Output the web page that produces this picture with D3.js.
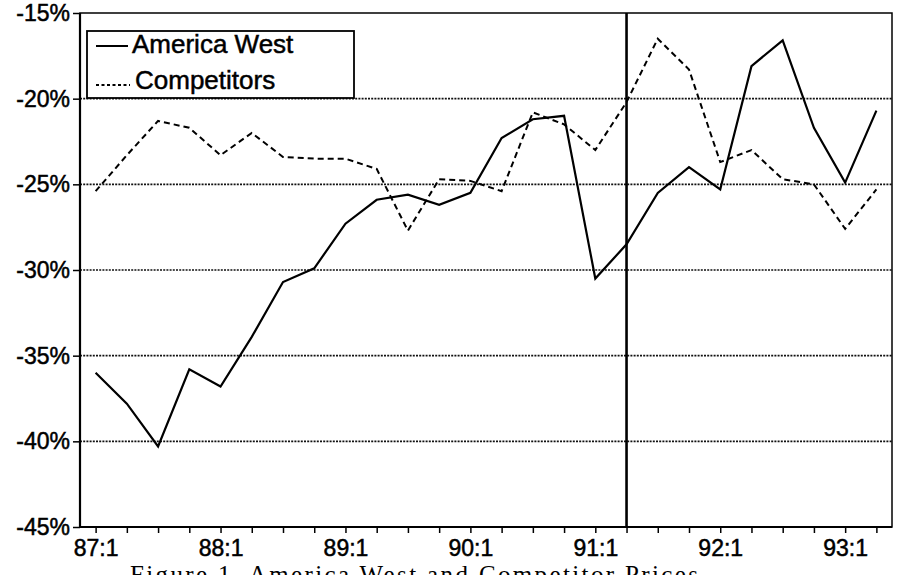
<!DOCTYPE html>
<html>
<head>
<meta charset="utf-8">
<script src="https://cdn.jsdelivr.net/npm/d3@7"></script>
<style>
  body { margin:0; background:#fff; }
  .canvas { width:904px; height:575px; }
  text { font-family:"Liberation Sans", Arial, sans-serif; fill:#000; }
  .axis path { display:none; }
  .axis line { stroke:#000; stroke-width:1.5px; }
  .axis text { font-size:23px; stroke:#000; stroke-width:0.5px; }
  .grid { stroke:#111; stroke-width:1.6px; stroke-dasharray:2,1.2; }
</style>
</head>
<body>
<div class="canvas" id="canvas"></div>
<script>
// quarters shown on the x axis
var periods = ["87:1","87:2","87:3","87:4","88:1","88:2","88:3","88:4",
               "89:1","89:2","89:3","89:4","90:1","90:2","90:3","90:4",
               "91:1","91:2","91:3","91:4","92:1","92:2","92:3","92:4",
               "93:1","93:2"];
var tickLabels = ["87:1","88:1","89:1","90:1","91:1","92:1","93:1"];
var yTicks = [-45,-40,-35,-30,-25,-20,-15];
var gridValues = [-40,-35,-30,-25,-20];
var breakPeriod = "91:2";

var americaWest = [-36.0,-37.8,-40.3,-35.8,-36.8,-33.9,-30.7,-29.9,
                   -27.3,-25.9,-25.6,-26.2,-25.5,-22.3,-21.2,-21.0,
                   -30.5,-28.5,-25.5,-24.0,-25.3,-18.1,-16.6,-21.7,
                   -24.9,-20.7];
var competitors = [-25.4,-23.3,-21.3,-21.7,-23.3,-22.0,-23.4,-23.5,
                   -23.5,-24.1,-27.7,-24.7,-24.8,-25.4,-20.8,-21.5,
                   -23.0,-20.2,-16.5,-18.3,-23.7,-23.0,-24.7,-25.0,
                   -27.6,-25.3];
var seriesNames = ["America West","Competitors"];

var m = {t:13, r:12, b:48, l:80},
    W = 904, H = 575,
    w = W - m.l - m.r,
    h = H - m.t - m.b;

var svg = d3.select('.canvas')
    .append('svg')
    .attr('width', W)
    .attr('height', H);

var plot = svg.append('g')
    .attr('transform','translate('+m.l+','+m.t+')');

// Scale
var scaleX = d3.scalePoint()
    .domain(periods)
    .range([0,w])
    .padding(0.5);
var scaleY = d3.scaleLinear()
    .domain([-45,-15])
    .range([h,0]);

// grid lines
plot.selectAll('.grid').data(gridValues)
    .enter().append('line')
    .attr('class','grid')
    .attr('x1',0).attr('x2',w)
    .attr('y1',function(d){return scaleY(d);})
    .attr('y2',function(d){return scaleY(d);});

// Axis
var axisX = d3.axisBottom()
    .scale(scaleX)
    .tickSize(6)
    .tickPadding(7)
    .tickFormat(function(d){ return tickLabels.indexOf(d) >= 0 ? d : ''; });
var axisY = d3.axisLeft()
    .scale(scaleY)
    .tickValues(yTicks)
    .tickSize(7)
    .tickPadding(3)
    .tickFormat(function(d){ return d + '%'; });

plot.append('g').attr('class','axis axis-x')
    .attr('transform','translate(0,'+h+')')
    .call(axisX);
plot.append('g').attr('class','axis axis-y').call(axisY);

// frame
plot.append('rect')
    .attr('x',0).attr('y',0).attr('width',w).attr('height',h)
    .style('fill','none').style('stroke','#000').style('stroke-width',1.5);
plot.append('line')
    .attr('x1',0).attr('x2',0).attr('y1',0).attr('y2',h)
    .style('stroke','#000').style('stroke-width',2.2);
plot.append('line')
    .attr('x1',0).attr('x2',w).attr('y1',h).attr('y2',h)
    .style('stroke','#000').style('stroke-width',2.2);

// break line
plot.append('line')
    .attr('x1',scaleX(breakPeriod)).attr('x2',scaleX(breakPeriod))
    .attr('y1',0).attr('y2',h)
    .style('stroke','#000').style('stroke-width',2.6);

var line = d3.line()
    .x(function(d,i){ return scaleX(periods[i]); })
    .y(function(d){ return scaleY(d); });

plot.append('path')
    .datum(competitors)
    .attr('d', line)
    .style('fill','none').style('stroke','#000')
    .style('stroke-width',2).style('stroke-dasharray','6,4');

plot.append('path')
    .datum(americaWest)
    .attr('d', line)
    .style('fill','none').style('stroke','#000')
    .style('stroke-width',2.2);

// legend
var legend = svg.append('g');
legend.append('rect')
    .attr('x',87).attr('y',31).attr('width',267).attr('height',67)
    .style('fill','#fff').style('stroke','#000').style('stroke-width',1.8);
var rows = legend.selectAll('.leg').data(seriesNames)
    .enter().append('g')
    .attr('transform',function(d,i){ return 'translate(96,'+(53+i*36)+')'; });
rows.append('line')
    .attr('x1',0).attr('x2',function(d,i){ return i ? 34 : 32; })
    .attr('y1',function(d,i){ return i ? -4 : -7; })
    .attr('y2',function(d,i){ return i ? -4 : -7; })
    .style('stroke','#000')
    .style('stroke-width',function(d,i){ return i ? 1.8 : 2; })
    .style('stroke-dasharray',function(d,i){ return i ? '3,2.5' : null; });
rows.append('text')
    .attr('x',function(d,i){ return i ? 39 : 36; })
    .attr('y',0)
    .style('font-size','26px')
    .style('stroke','#000').style('stroke-width',0.5)
    .text(function(d){ return d; });

// caption (cut off at the bottom edge)
svg.append('text')
    .attr('x',130).attr('y',583)
    .attr('textLength',568)
    .style('font-family','"Liberation Serif", "Times New Roman", serif')
    .style('font-size','25px')
    .text('Figure 1.  America West and Competitor Prices');
</script>
</body>
</html>
